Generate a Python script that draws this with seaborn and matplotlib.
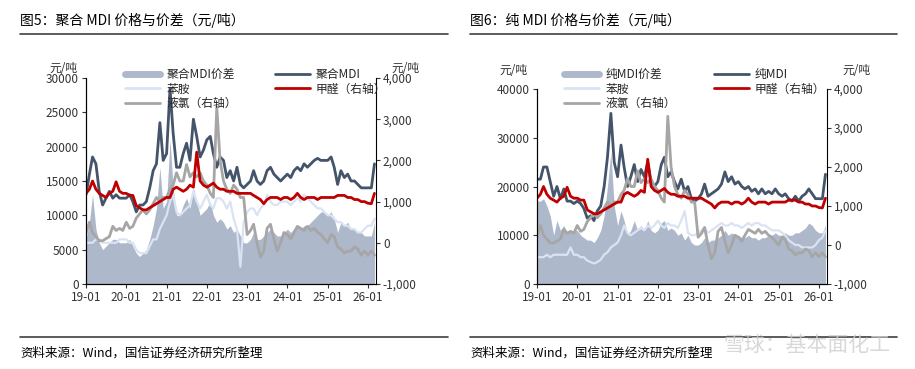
import matplotlib
matplotlib.use("Agg")
import matplotlib.pyplot as plt
import matplotlib.dates as mdates
from matplotlib.lines import Line2D
import numpy as np
import pandas as pd
import seaborn as sns

# 数据：月度，2019-01 ~ 2026-03
months = pd.date_range("2019-01-01", "2026-03-01", freq="MS")

# 图5 聚合MDI
pm_price = [
    13000, 16000, 18500, 17500, 13500, 11500, 12500, 13500, 12500, 13000, 12500, 12500,
    12500, 13000, 12000, 10500, 11500, 11500, 12000, 14000, 16500, 17500, 23500, 18000,
    19000, 28500, 22000, 17000, 17000, 19000, 20500, 18000, 24000, 21500, 18500, 19500,
    21000, 21500, 19000, 17000, 18500, 18000, 15500, 16500, 15000, 17000, 14500, 14000,
    14500, 15000, 16500, 15000, 14500, 15000, 16500, 17000, 16000, 15500, 15000, 15500,
    16000, 15500, 16500, 17000, 16500, 17500, 17000, 17500, 18000, 18300, 18000, 18000,
    18000, 18500, 17000, 14500, 16500, 15500, 16000, 15000, 15000, 14500, 14000, 14000,
    14000, 14000, 17500]
pm_spread = [
    6500, 9000, 13000, 8000, 6000, 5000, 5500, 6000, 6500, 6500, 6000, 6000,
    6000, 6500, 5500, 4500, 4000, 4500, 5000, 6500, 8500, 11000, 17000, 11000,
    12000, 21000, 14000, 10000, 10000, 11500, 12500, 11000, 14000, 12000, 10000, 10500,
    11000, 12000, 10000, 9000, 9500, 9000, 8000, 8500, 7500, 8000, 7000, 6000,
    6000, 6500, 7500, 6500, 6500, 7000, 7500, 8000, 7500, 7000, 7000, 7500,
    8000, 7500, 8000, 8500, 8000, 8500, 8500, 9000, 9500, 10000, 10500, 10500,
    10000, 10500, 9500, 7500, 9000, 8500, 9000, 8000, 8000, 7500, 7500, 7000,
    7000, 7000, 9000]
pm_aniline = [
    6000, 6000, 6000, 6500, 6500, 6000, 6000, 6000, 6000, 6000, 6500, 6500,
    6500, 6000, 6000, 5000, 4500, 4500, 4500, 5500, 6500, 6500, 8000, 9000,
    10000, 12000, 13000, 10500, 10000, 10500, 11000, 11500, 13500, 12000, 11000, 12000,
    13000, 11500, 11000, 12500, 12500, 12000, 11000, 12000, 9500, 8000, 2500, 9000,
    10500, 11000, 11000, 10000, 11000, 11500, 13000, 12000, 11500, 11500, 12000, 12000,
    12000, 11500, 12000, 12500, 12000, 13000, 12500, 12000, 11500, 11000, 11000, 10500,
    10000, 10000, 9500, 9000, 9000, 8500, 8500, 8000, 8000, 7500, 7500, 8000,
    8500, 8500, 9500]

# 图6 纯MDI
pure_price = [
    21500, 21500, 24000, 24000, 21000, 18000, 20000, 17500, 19500, 17000, 17000, 16500,
    17000, 16500, 15500, 13500, 14000, 13000, 15000, 16000, 20000, 26000, 35000, 25000,
    22000, 28500, 24000, 20000, 22000, 24500, 21000, 23500, 22000, 25000, 21000, 20000,
    21000, 24500, 26000, 22000, 23000, 21000, 19500, 21500, 19000, 20000, 17500, 17000,
    17500, 18500, 20500, 18000, 18500, 19000, 19500, 20500, 23000, 21000, 22000, 20500,
    21000, 20000, 19500, 20000, 19000, 19500, 18500, 19500, 18500, 19000, 18500, 19500,
    18500, 18000, 18500, 17500, 17000, 18000, 17000, 18000, 18500, 19500, 18500, 17500,
    17500, 17500, 22500]
pure_spread = [
    17000, 17000, 17500, 16000, 14000, 10000, 13000, 11000, 12000, 10500, 11000, 11000,
    11000, 10000, 9500, 9000, 9000, 8500, 9500, 11000, 14000, 20000, 27000, 16000,
    12000, 15000, 13000, 10000, 11000, 13000, 11000, 12000, 11000, 13000, 11000, 10500,
    11000, 12500, 13000, 11000, 11500, 11000, 10000, 10500, 9000, 10000, 8500, 8000,
    8000, 8500, 9500, 8500, 9000, 9000, 9500, 10000, 11000, 10000, 10500, 10000,
    10000, 9500, 9500, 10000, 9500, 9500, 9000, 9500, 9500, 10000, 10000, 10500,
    10000, 10000, 10500, 10000, 10000, 10500, 10500, 11000, 11500, 12500, 12000, 11000,
    10500, 10500, 12000]
pure_aniline = [
    5500, 5500, 5500, 6000, 5500, 6000, 6000, 6000, 6000, 6000, 7500, 6000,
    6000, 5500, 5500, 4800, 4500, 4200, 4500, 5000, 6000, 6500, 7500, 8000,
    8500, 10000, 12000, 10500, 10000, 10500, 11000, 11500, 11000, 12000, 11500, 12000,
    13000, 12000, 11500, 12500, 12000, 12000, 11500, 13000, 15000, 10500, 10000, 10000,
    10500, 11000, 11500, 10500, 11000, 11500, 12000, 12500, 12000, 12000, 12500, 12000,
    12000, 11500, 12000, 12500, 12000, 12500, 12500, 12000, 12000, 11500, 11000, 11000,
    11000, 10500, 10000, 9000, 8500, 8000, 8000, 7500, 7500, 7500, 7500, 8000,
    9000, 9500, 11000]

# 右轴：甲醛、液氯
hcho = [
    1200, 1300, 1500, 1300, 1200, 1150, 1100, 1200, 1250, 1480, 1250, 1200,
    1200, 1150, 1150, 900, 850, 800, 800, 850, 900, 950, 1000, 1050,
    1100, 1100, 1300, 1350, 1300, 1250, 1300, 1400, 1350, 2200, 1500, 1400,
    1350, 1400, 1450, 1350, 1300, 1300, 1250, 1250, 1250, 1200, 1200, 1200,
    1200, 1200, 1150, 1100, 1050, 950, 1050, 1100, 1100, 1100, 1050, 1100,
    1100, 1050, 1100, 1200, 1100, 1050, 1100, 1100, 1100, 1050, 1100, 1100,
    1100, 1100, 1100, 1150, 1150, 1150, 1100, 1100, 1050, 1050, 1000, 1000,
    960, 950, 1200]
cl2 = [
    230, 500, 250, 150, 50, 50, 100, 150, 400, 300, 350, 300,
    500, 350, 400, 600, 700, 800, 700, 800, 950, 1100, 1000, 1100,
    1100, 1300, 1400, 1700, 1500, 1500, 1900, 1600, 1700, 1600, 1700, 1500,
    1400, 1200, 1100, 3300, 2000, 1500, 1300, 1200, 1400, 1300, 1100, 1100,
    200, 300, 450, 0, -350, -200, 350, 450, 100, -200, 0, 250,
    200, 100, 250, 400, 350, 300, 400, 300, 350, 250, 200, 100,
    0, 200, 150, -100, -150, -250, -200, -200, -100, -150, -300, -200,
    -300, -200, -300]

sns.set_style("ticks")
plt.rcParams['font.family'] = ['Noto Sans CJK SC', 'DejaVu Sans']
plt.rcParams['axes.unicode_minus'] = False

C_PRICE = "#44546A"
C_SPREAD = "#ADB9CA"
C_ANILINE = "#DAE3F3"
C_HCHO = "#C00000"
C_CL2 = "#A6A6A6"

W, H = 915, 369
fig = plt.figure(figsize=(9.15, 3.69), dpi=100)


def fx(px):
    return px / W


def fy(py):
    return 1 - py / H


def draw_panel(rect, spread, price, aniline, name, ymax, ystep, leg_xy, unit_l, unit_r):
    ax = fig.add_axes(rect)
    ax.fill_between(months, spread, 0, color=C_SPREAD, lw=0)
    sns.lineplot(x=months, y=aniline, ax=ax, color=C_ANILINE, lw=1.6)
    sns.lineplot(x=months, y=price, ax=ax, color=C_PRICE, lw=2)
    ax.set_ylim(0, ymax)
    ax.set_yticks(np.arange(0, ymax + 1, ystep))
    ax.set_xlim(pd.Timestamp("2019-01-01"), pd.Timestamp("2026-03-15"))
    ax.xaxis.set_major_locator(mdates.YearLocator())
    ax.xaxis.set_major_formatter(mdates.DateFormatter("%y-%m"))

    ax2 = ax.twinx()
    sns.lineplot(x=months, y=cl2, ax=ax2, color=C_CL2, lw=2)
    sns.lineplot(x=months, y=hcho, ax=ax2, color=C_HCHO, lw=2)
    ax2.set_ylim(-1000, 4000)
    ax2.set_yticks(np.arange(-1000, 4001, 1000))
    ax2.yaxis.set_major_formatter(matplotlib.ticker.FuncFormatter(lambda v, p: f"{v:,.0f}"))

    for a in (ax, ax2):
        a.set_xlabel("")
        a.set_ylabel("")
        a.spines["top"].set_visible(False)
        for s in ("left", "right", "bottom"):
            a.spines[s].set_color("black")
            a.spines[s].set_linewidth(0.8)
        a.tick_params(labelsize=8.5, length=3, width=0.8, colors="#333333", pad=2)
    ax.spines["right"].set_visible(False)

    handles = [
        Line2D([], [], color=C_SPREAD, lw=5),
        Line2D([], [], color=C_ANILINE, lw=2),
        Line2D([], [], color=C_CL2, lw=2),
        Line2D([], [], color=C_PRICE, lw=2),
        Line2D([], [], color=C_HCHO, lw=2),
    ]
    labels = [name + "价差", "苯胺", "液氯（右轴）", name, "甲醛（右轴）"]
    fig.legend(handles, labels, loc="upper left", bbox_to_anchor=(fx(leg_xy[0]), fy(leg_xy[1])),
               ncol=2, frameon=False, fontsize=8.5, handlelength=3.0, handletextpad=0.5,
               columnspacing=3.2, labelspacing=0.12, borderpad=0, borderaxespad=0)

    fig.text(fx(unit_l[0]), fy(unit_l[1]), "元/吨", fontsize=8.5, color="#333333", ha="center", va="center")
    fig.text(fx(unit_r[0]), fy(unit_r[1]), "元/吨", fontsize=8.5, color="#333333", ha="center", va="center")
    return ax


draw_panel([fx(86), fy(284), fx(290), (284 - 78) / H], pm_spread, pm_price, pm_aniline,
           "聚合MDI", 30000, 5000, (125, 68), (63, 68), (405, 68))
draw_panel([fx(537), fy(284), fx(290), (284 - 89) / H], pure_spread, pure_price, pure_aniline,
           "纯MDI", 40000, 10000, (564, 68), (513, 70), (856, 70))

# 标题、分隔线、资料来源
for x0, x1, title in [(20, 448, "图5：聚合 MDI 价格与价差（元/吨）"),
                      (470, 897, "图6：纯 MDI 价格与价差（元/吨）")]:
    fig.text(fx(x0), fy(20), title, fontsize=10, color="black", ha="left", va="center")
    fig.add_artist(Line2D([fx(x0), fx(x1)], [fy(34), fy(34)], color="#404040", lw=1.2))
    fig.add_artist(Line2D([fx(x0), fx(x1)], [fy(337), fy(337)], color="#404040", lw=1.2))
    fig.text(fx(x0), fy(353), "资料来源：Wind，国信证券经济研究所整理", fontsize=9,
             color="black", ha="left", va="center")

fig.text(fx(890), fy(345), "雪球：基本面化工", fontsize=15, color="#cfcfcf", alpha=0.8,
         ha="right", va="center")

fig.savefig("out.png", dpi=100)
